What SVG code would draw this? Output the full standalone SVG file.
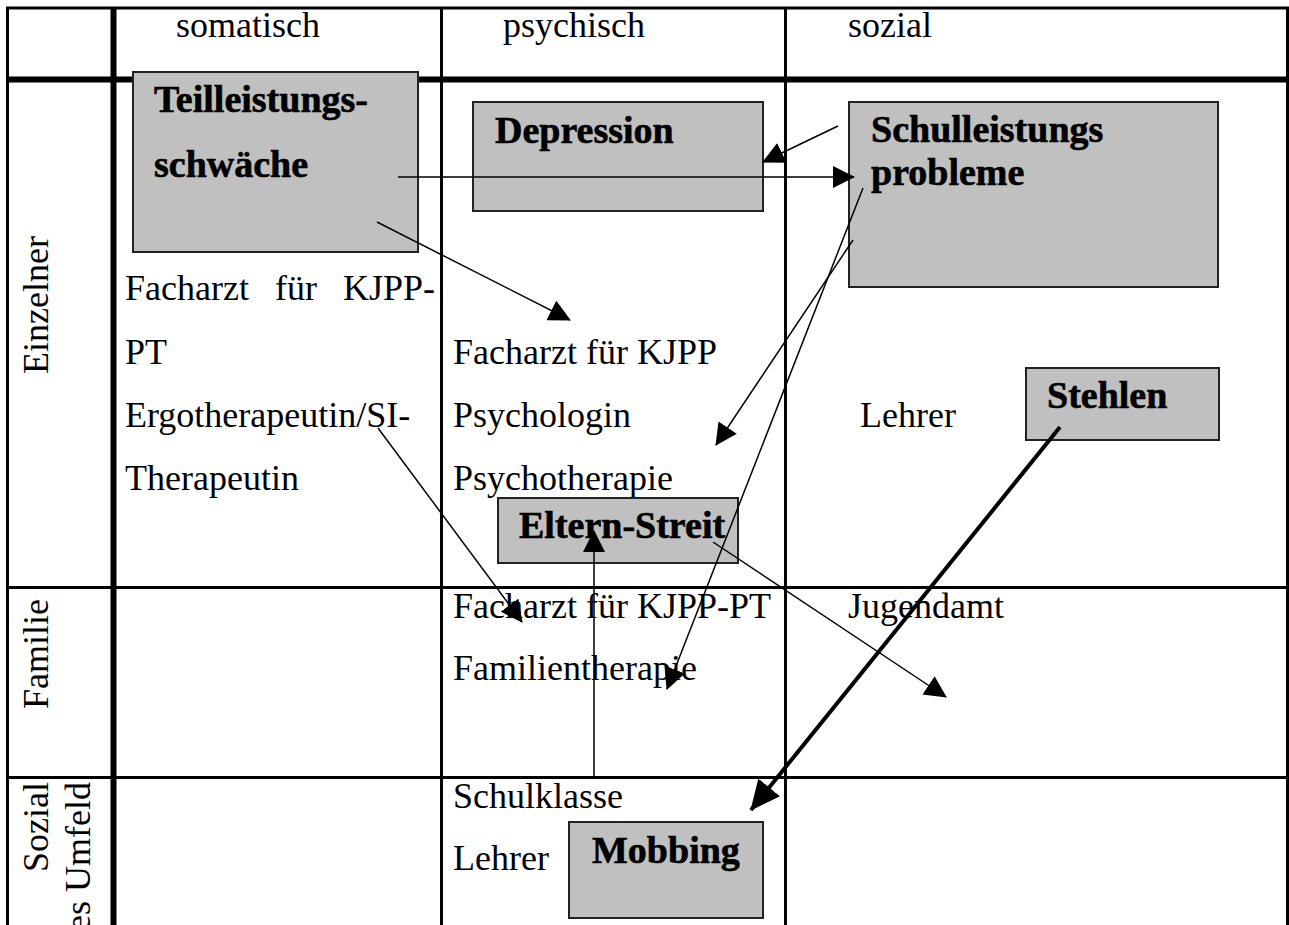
<svg xmlns="http://www.w3.org/2000/svg" width="1289" height="925" viewBox="0 0 1289 925">
<style>
.t{font-family:"Liberation Serif","Times New Roman",serif;font-size:36px;fill:#000}
.b{font-family:"Liberation Serif","Times New Roman",serif;font-size:38px;font-weight:bold;fill:#000;stroke:#000;stroke-width:0.6}
.box{fill:#c0c0c0;stroke:#222;stroke-width:2}
.g{stroke:#000;fill:none}
.c{stroke:#000;stroke-width:1.5;fill:none;marker-end:url(#ah)}
.ck{stroke:#000;stroke-width:4;fill:none;marker-end:url(#ahk)}
</style>
<defs>
<marker id="ah" markerUnits="userSpaceOnUse" viewBox="0 0 22 22" markerWidth="22" markerHeight="22" refX="21" refY="11" orient="auto"><path d="M0,0 L22,11 L0,22 z" fill="#000"/></marker>
<marker id="ahk" markerUnits="userSpaceOnUse" viewBox="0 0 30 28" markerWidth="30" markerHeight="28" refX="29" refY="14" orient="auto"><path d="M0,0 L30,14 L0,28 z" fill="#000"/></marker>
</defs>
<rect width="1289" height="925" fill="#fff"/>
<g id="grid">
<line class="g" x1="7.5" y1="8" x2="7.5" y2="925" stroke-width="3"/>
<line class="g" x1="6" y1="8" x2="1289" y2="8" stroke-width="3"/>
<line class="g" x1="113.5" y1="8" x2="113.5" y2="925" stroke-width="6"/>
<line class="g" x1="441.5" y1="8" x2="441.5" y2="925" stroke-width="3"/>
<line class="g" x1="785.5" y1="8" x2="785.5" y2="925" stroke-width="3"/>
<line class="g" x1="1287.5" y1="8" x2="1287.5" y2="925" stroke-width="3"/>
<line class="g" x1="6" y1="79.5" x2="1289" y2="79.5" stroke-width="6"/>
<line class="g" x1="6" y1="587.5" x2="1289" y2="587.5" stroke-width="3"/>
<line class="g" x1="6" y1="777.5" x2="1289" y2="777.5" stroke-width="3"/>
</g>
<g id="headers">
<text class="t" x="176" y="37">somatisch</text>
<text class="t" x="503" y="37">psychisch</text>
<text class="t" x="848" y="37">sozial</text>
<text class="t" text-anchor="middle" transform="translate(48,305) rotate(-90)">Einzelner</text>
<text class="t" text-anchor="middle" transform="translate(48,654) rotate(-90)">Familie</text>
<text class="t" text-anchor="end" transform="translate(48,782) rotate(-90)">Sozial</text>
<text class="t" text-anchor="end" transform="translate(90,782) rotate(-90)">es Umfeld</text>
</g>
<g id="cells">
<text class="t" y="300"><tspan x="125">Facharzt</tspan><tspan x="275">für</tspan><tspan x="343">KJPP-</tspan></text>
<text class="t" x="125" y="364">PT</text>
<text class="t" x="125" y="427">Ergotherapeutin/SI-</text>
<text class="t" x="125" y="490">Therapeutin</text>
<text class="t" x="453" y="364">Facharzt für KJPP</text>
<text class="t" x="453" y="427">Psychologin</text>
<text class="t" x="453" y="490">Psychotherapie</text>
<text class="t" x="860" y="427">Lehrer</text>
<text class="t" x="453" y="618">Facharzt für KJPP-PT</text>
<text class="t" x="453" y="680">Familientherapie</text>
<text class="t" x="848" y="618">Jugendamt</text>
<text class="t" x="453" y="808">Schulklasse</text>
<text class="t" x="453" y="870">Lehrer</text>
</g>
<g id="n-teilleistung"><rect class="box" x="133" y="72" width="285" height="180"/><text class="b" x="154" y="112">Teilleistungs-</text><text class="b" x="154" y="177">schwäche</text></g>
<g id="n-depression"><rect class="box" x="473" y="102" width="290" height="109"/><text class="b" x="495" y="143">Depression</text></g>
<g id="n-schulleistung"><rect class="box" x="849" y="102" width="369" height="185"/><text class="b" x="871" y="142">Schulleistungs</text><text class="b" x="871" y="185">probleme</text></g>
<g id="n-stehlen"><rect class="box" x="1026" y="368" width="193" height="72"/><text class="b" x="1047" y="408">Stehlen</text></g>
<g id="n-eltern"><rect class="box" x="498" y="498" width="240" height="65"/><text class="b" x="519" y="538">Eltern-Streit</text></g>
<g id="n-mobbing"><rect class="box" x="569" y="822" width="194" height="96"/><text class="b" x="592" y="863">Mobbing</text></g>
<g id="connectors">
<line class="c" x1="398" y1="177" x2="854" y2="177"/>
<line class="c" x1="838" y1="126" x2="763" y2="162"/>
<line class="c" x1="377" y1="222" x2="570" y2="320"/>
<line class="c" x1="853" y1="240" x2="716" y2="445"/>
<line class="c" x1="863" y1="188" x2="667" y2="689"/>
<line class="c" x1="378" y1="428" x2="522" y2="622"/>
<line class="c" x1="594" y1="777" x2="594" y2="531"/>
<line class="c" x1="713" y1="542" x2="946" y2="697"/>
<line class="ck" x1="1060" y1="427" x2="751" y2="810"/>
</g>
</svg>
